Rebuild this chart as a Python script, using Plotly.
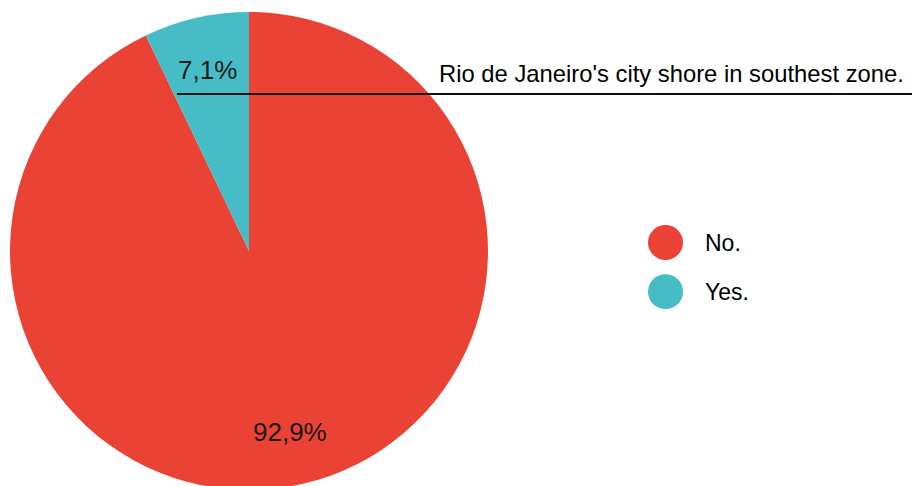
import math
import plotly.graph_objects as go

# ---- data ----
labels = ["No.", "Yes."]
values = [92.9, 7.1]
colors = ["#EA4335", "#46BDC6"]
title_text = "Rio de Janeiro's city shore in southest zone."

W, H = 912, 494   # figure is slightly taller than the window so the pie bottom is clipped like the reference
FONT = "Arial, Liberation Sans, sans-serif"

# pie geometry (pixels, from top-left)
cx, cy, R = 249, 251, 239
dom_x = [(cx - R) / W, (cx + R) / W]
dom_y = [(H - (cy + R)) / H, (H - (cy - R)) / H]


def px_x(x):
    return x / W


def px_y(y):
    return (H - y) / H


fig = go.Figure()
fig.add_trace(go.Pie(
    labels=labels,
    values=values,
    sort=False,
    direction="clockwise",
    rotation=0,
    marker=dict(colors=colors, line=dict(width=0)),
    textinfo="none",
    hoverinfo="label+percent",
    showlegend=False,
    domain=dict(x=dom_x, y=dom_y),
))

annotations = []
shapes = []

# percentage labels placed at the slice mid-angles
total = sum(values)
start = 90.0
for v in values:
    sweep = v / total * 360.0
    mid = start - sweep / 2.0
    start -= sweep
    rr = 0.777 * R
    lx = cx + rr * math.cos(math.radians(mid))
    ly = cy - rr * math.sin(math.radians(mid))
    txt = f"{v / total * 100:.1f}%".replace(".", ",")
    annotations.append(dict(
        x=px_x(lx), y=px_y(ly), xref="paper", yref="paper",
        text=txt, showarrow=False, xanchor="center", yanchor="middle",
        font=dict(family=FONT, size=26, color="#1a1a1a"),
    ))

# title with underline
annotations.append(dict(
    x=px_x(906), y=px_y(74), xref="paper", yref="paper",
    text=title_text, showarrow=False, xanchor="right", yanchor="middle",
    font=dict(family=FONT, size=23.8, color="#000000"),
))
shapes.append(dict(
    type="line", xref="paper", yref="paper",
    x0=px_x(177), x1=1.0, y0=px_y(94), y1=px_y(94),
    line=dict(color="#111111", width=2),
))

# legend (circles + text)
leg_x, leg_y0, leg_dy, leg_r = 665.5, 242.5, 49.2, 17.5
for i, (lab, col) in enumerate(zip(labels, colors)):
    ly = leg_y0 + i * leg_dy
    shapes.append(dict(
        type="circle", xref="paper", yref="paper",
        x0=px_x(leg_x - leg_r), x1=px_x(leg_x + leg_r),
        y0=px_y(ly + leg_r), y1=px_y(ly - leg_r),
        fillcolor=col, line=dict(width=0),
    ))
    annotations.append(dict(
        x=px_x(703), y=px_y(ly), xref="paper", yref="paper",
        text=lab, showarrow=False, xanchor="left", yanchor="middle",
        font=dict(family=FONT, size=23, color="#000000"),
    ))

fig.update_layout(
    width=W, height=H,
    margin=dict(l=0, r=0, t=0, b=0),
    paper_bgcolor="white", plot_bgcolor="white",
    separators=",.",
    annotations=annotations,
    shapes=shapes,
)

fig.write_html(
    "out.html",
    config={"displayModeBar": False},
    post_script="document.body.style.margin='0';document.body.style.overflow='hidden';",
)
